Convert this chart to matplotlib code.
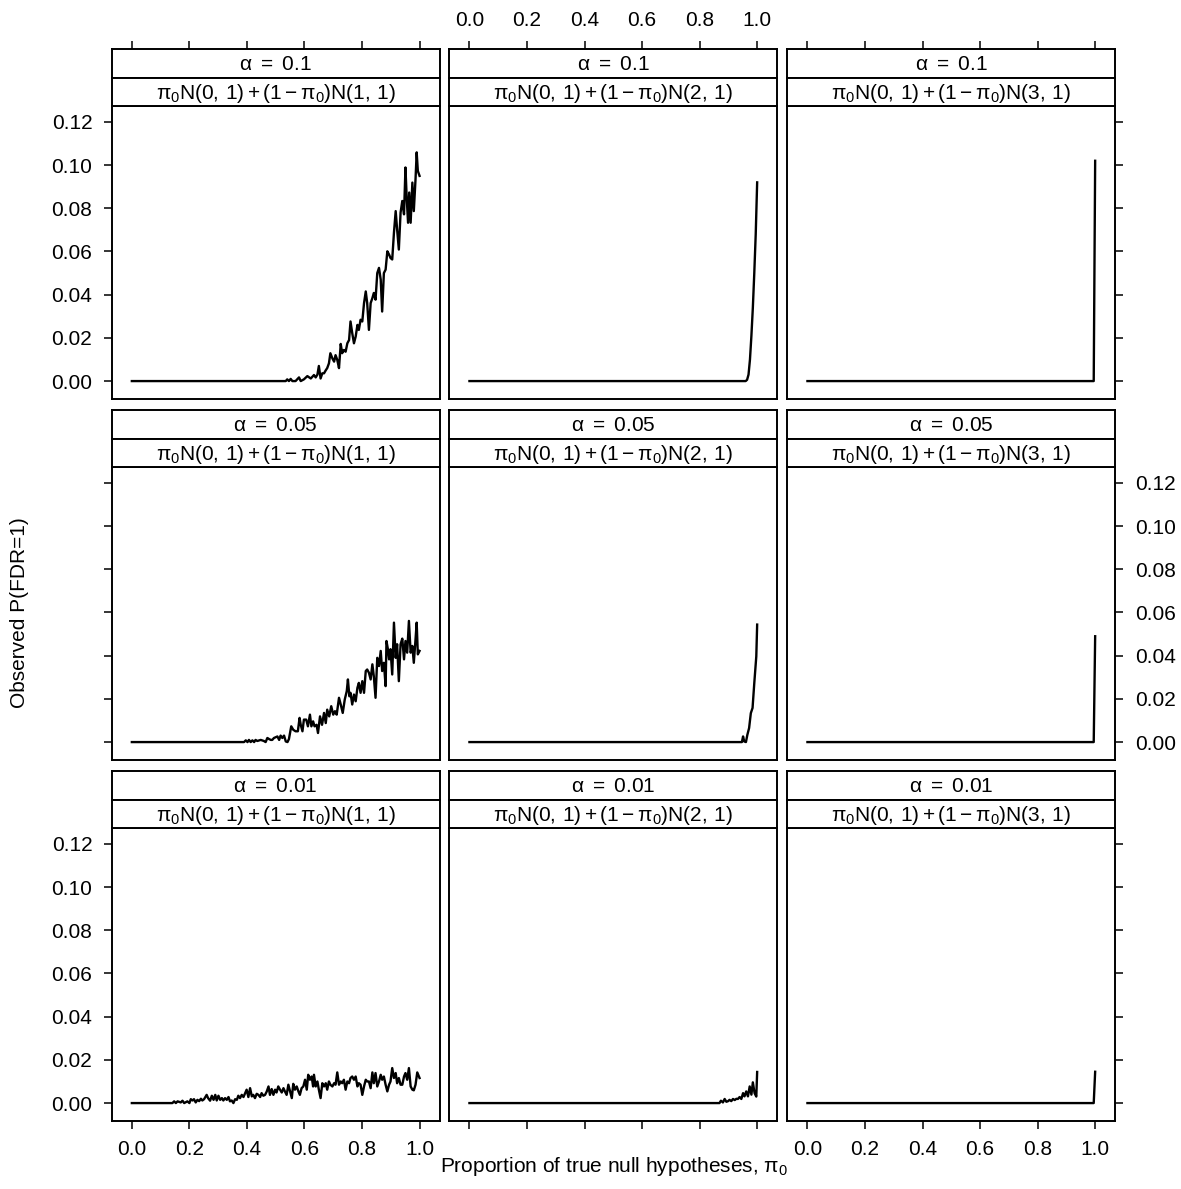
import matplotlib.pyplot as plt
from matplotlib.ticker import FormatStrFormatter

plt.rcParams.update({
    "font.family": "Liberation Sans",
    "font.size": 15,
    "mathtext.fontset": "custom",
    "mathtext.rm": "Liberation Sans",
    "mathtext.it": "Liberation Sans",
    "mathtext.default": "rm",
})

alphas = ["0.1", "0.05", "0.01"]
alt_means = [1, 2, 3]

# observed P(FDR=1) against pi0, one curve per (alpha, alternative mean)
pi0_m1_a10 = [0.0, 0.535, 0.54, 0.546, 0.552, 0.558, 0.569, 0.581, 0.587, 0.598,
              0.61, 0.622, 0.633, 0.639, 0.645, 0.65, 0.656, 0.662, 0.668, 0.674,
              0.679, 0.685, 0.69, 0.697, 0.703, 0.708, 0.714, 0.72, 0.726, 0.731,
              0.737, 0.743, 0.749, 0.755, 0.76, 0.766, 0.772, 0.778, 0.784, 0.789,
              0.795, 0.801, 0.807, 0.813, 0.818, 0.824, 0.83, 0.836, 0.841, 0.847,
              0.853, 0.859, 0.865, 0.87, 0.876, 0.882, 0.888, 0.894, 0.899, 0.905,
              0.911, 0.917, 0.922, 0.928, 0.934, 0.94, 0.946, 0.951, 0.955, 0.96,
              0.964, 0.969, 0.975, 0.98, 0.986, 0.99, 0.994, 1.0]
fdr_m1_a10 = [0, 0, 0.0008, 0, 0.001, 0, 0, 0.0017, 0, 0.0008,
              0.0023, 0.0012, 0.0028, 0.0017, 0.003, 0.007, 0.0012, 0.0036, 0.0036, 0.005,
              0.006, 0.0082, 0.0129, 0.0105, 0.009, 0.012, 0.0098, 0.006, 0.0172, 0.0129,
              0.0144, 0.0136, 0.0175, 0.019, 0.0276, 0.0222, 0.0175, 0.0206, 0.026, 0.0237,
              0.0284, 0.0276, 0.0361, 0.0415, 0.0361, 0.0237, 0.0361, 0.0384, 0.0408, 0.0377,
              0.050, 0.0524, 0.047, 0.0322, 0.050, 0.0516, 0.0601, 0.0586, 0.057, 0.0563,
              0.0687, 0.0787, 0.0702, 0.0609, 0.078, 0.0834, 0.0772, 0.0989, 0.0857, 0.0733,
              0.0873, 0.0733, 0.0919, 0.0787, 0.0935, 0.1059, 0.0973, 0.095]

pi0_m1_a05 = [0.0, 0.39, 0.396, 0.402, 0.407, 0.413, 0.419, 0.425, 0.43, 0.436,
              0.448, 0.459, 0.465, 0.471, 0.477, 0.483, 0.488, 0.494, 0.506, 0.512,
              0.517, 0.523, 0.529, 0.535, 0.541, 0.546, 0.554, 0.561, 0.569, 0.577,
              0.583, 0.587, 0.593, 0.598, 0.606, 0.612, 0.619, 0.624, 0.63, 0.635,
              0.642, 0.647, 0.654, 0.661, 0.668, 0.674, 0.679, 0.686, 0.693, 0.7,
              0.706, 0.712, 0.72, 0.726, 0.733, 0.74, 0.747, 0.751, 0.756, 0.76,
              0.766, 0.772, 0.778, 0.784, 0.789, 0.795, 0.801, 0.807, 0.813, 0.818,
              0.824, 0.83, 0.836, 0.841, 0.847, 0.853, 0.859, 0.865, 0.87, 0.876,
              0.882, 0.885, 0.89, 0.894, 0.899, 0.905, 0.911, 0.917, 0.922, 0.928,
              0.934, 0.94, 0.946, 0.951, 0.957, 0.963, 0.969, 0.975, 0.98, 0.986,
              0.99, 0.994, 1.0]
fdr_m1_a05 = [0, 0, 0.0008, 0, 0.001, 0, 0.0008, 0, 0.001, 0.0005,
              0.001, 0.0005, 0, 0.0019, 0.0014, 0.001, 0.001, 0.0019, 0.0026, 0.001,
              0.003, 0.0019, 0.003, 0.0003, 0, 0.0014, 0.0073, 0.0057, 0.005, 0.005,
              0.0112, 0.008, 0.005, 0.0104, 0.0104, 0.0073, 0.0127, 0.0073, 0.0096, 0.0073,
              0.008, 0.0042, 0.0119, 0.008, 0.0135, 0.0088, 0.015, 0.0119, 0.0166, 0.0127,
              0.0143, 0.0127, 0.0205, 0.0174, 0.0135, 0.0197, 0.0236, 0.029, 0.0212, 0.0228,
              0.0174, 0.022, 0.0189, 0.0251, 0.0274, 0.0228, 0.0282, 0.0228, 0.0329, 0.0336,
              0.0321, 0.029, 0.036, 0.0305, 0.0205, 0.039, 0.0352, 0.0422, 0.0329, 0.0367,
              0.0259, 0.0468, 0.043, 0.0383, 0.043, 0.0313, 0.0553, 0.039, 0.0453, 0.0282,
              0.0453, 0.0479, 0.0383, 0.0468, 0.0414, 0.0561, 0.0414, 0.0445, 0.0367, 0.0476,
              0.0553, 0.0406, 0.0422]

pi0_m1_a01 = [0.0, 0.141, 0.147, 0.153, 0.159, 0.17, 0.176, 0.182, 0.193, 0.2, 0.205,
              0.211, 0.216, 0.222, 0.228, 0.234, 0.24, 0.245, 0.251, 0.26, 0.265,
              0.272, 0.278, 0.284, 0.29, 0.295, 0.301, 0.307, 0.313, 0.318, 0.324,
              0.33, 0.336, 0.341, 0.347, 0.353, 0.359, 0.365, 0.37, 0.376, 0.382,
              0.388, 0.394, 0.399, 0.405, 0.411, 0.417, 0.422, 0.428, 0.434, 0.44,
              0.446, 0.451, 0.457, 0.463, 0.469, 0.475, 0.48, 0.486, 0.492, 0.498,
              0.503, 0.509, 0.515, 0.521, 0.527, 0.532, 0.538, 0.544, 0.55, 0.556,
              0.561, 0.567, 0.573, 0.579, 0.584, 0.59, 0.596, 0.602, 0.608, 0.613,
              0.619, 0.625, 0.63, 0.633, 0.639, 0.645, 0.65, 0.656, 0.662, 0.668,
              0.674, 0.679, 0.685, 0.69, 0.697, 0.703, 0.708, 0.714, 0.72, 0.726,
              0.731, 0.737, 0.743, 0.749, 0.755, 0.76, 0.766, 0.772, 0.778, 0.784,
              0.789, 0.795, 0.801, 0.807, 0.813, 0.818, 0.824, 0.83, 0.836, 0.841,
              0.847, 0.853, 0.859, 0.865, 0.87, 0.876, 0.882, 0.888, 0.894, 0.899,
              0.905, 0.911, 0.917, 0.922, 0.928, 0.934, 0.94, 0.946, 0.951, 0.957,
              0.963, 0.969, 0.975, 0.98, 0.986, 0.992, 1.0]
fdr_m1_a01 = [0, 0, 0.0008, 0, 0.0008, 0.0003, 0.0011, 0, 0.0008, 0, 0.0018,
              0.0012, 0.0018, 0.0003, 0.0015, 0.0009, 0.002, 0.0012, 0.0018, 0.0038, 0.0023,
              0.0011, 0.0034, 0.0015, 0.0038, 0.0012, 0.0034, 0.0015, 0.0023, 0.0012, 0.0023,
              0.0015, 0.0028, 0.0008, 0.0012, 0, 0.0018, 0.0015, 0.0034, 0.0023, 0.0038,
              0.0028, 0.0046, 0.0062, 0.0028, 0.0069, 0.0031, 0.0038, 0.0023, 0.0043, 0.0038,
              0.0028, 0.0046, 0.0034, 0.0038, 0.0054, 0.0077, 0.0038, 0.0065, 0.0038, 0.0062,
              0.0049, 0.0077, 0.0062, 0.0049, 0.0069, 0.0054, 0.0038, 0.0085, 0.0054, 0.0023,
              0.0089, 0.0062, 0.0077, 0.0054, 0.0038, 0.0069, 0.0077, 0.0108, 0.0062, 0.0131,
              0.0108, 0.0123, 0.0077, 0.0131, 0.0077, 0.01, 0.0062, 0.0023, 0.0092, 0.0077,
              0.0092, 0.0062, 0.01, 0.0085, 0.0077, 0.0092, 0.0085, 0.0142, 0.0085, 0.01,
              0.0092, 0.0108, 0.0062, 0.01, 0.0092, 0.0116, 0.0123, 0.0108, 0.0123, 0.0077,
              0.0092, 0.0085, 0.0038, 0.0077, 0.0108, 0.01, 0.01, 0.0069, 0.0142, 0.0092,
              0.0139, 0.0077, 0.01, 0.0131, 0.0108, 0.0123, 0.0085, 0.0054, 0.0085, 0.01,
              0.0162, 0.0116, 0.0139, 0.0092, 0.0116, 0.0085, 0.0085, 0.0123, 0.0139, 0.0108,
              0.0162, 0.0077, 0.0062, 0.0059, 0.0085, 0.0142, 0.0116]

pi0_m2_a10 = [0.0, 0.955, 0.96, 0.965, 0.97, 0.975, 0.98, 0.985, 0.99, 0.995, 1.0]
fdr_m2_a10 = [0, 0, 0, 0.0006, 0.003, 0.01, 0.021, 0.034, 0.05, 0.068, 0.092]

pi0_m2_a05 = [0.0, 0.947, 0.951, 0.955, 0.961, 0.966, 0.972, 0.978, 0.984, 0.99, 0.997, 1.0]
fdr_m2_a05 = [0, 0, 0.0026, 0.0003, 0, 0.0034, 0.0065, 0.0134, 0.0158, 0.0273, 0.0397, 0.0544]

pi0_m2_a01 = [0.0, 0.869, 0.874, 0.881, 0.887, 0.893, 0.899, 0.904, 0.91, 0.916,
              0.922, 0.928, 0.933, 0.939, 0.945, 0.951, 0.956, 0.962, 0.968, 0.974,
              0.98, 0.985, 0.991, 0.997, 1.0]
fdr_m2_a01 = [0, 0, 0.0011, 0.0003, 0.0019, 0.0006, 0.0009, 0.0015, 0.0009, 0.0019,
              0.0014, 0.002, 0.0019, 0.0028, 0.0019, 0.0046, 0.0031, 0.0054, 0.0031, 0.0077,
              0.0039, 0.0096, 0.0046, 0.003, 0.0144]

pi0_m3 = [0.0, 0.995, 1.0]
fdr_m3_a10 = [0, 0, 0.102]
fdr_m3_a05 = [0, 0, 0.049]
fdr_m3_a01 = [0, 0, 0.0145]

curves = [
    [(pi0_m1_a10, fdr_m1_a10), (pi0_m2_a10, fdr_m2_a10), (pi0_m3, fdr_m3_a10)],
    [(pi0_m1_a05, fdr_m1_a05), (pi0_m2_a05, fdr_m2_a05), (pi0_m3, fdr_m3_a05)],
    [(pi0_m1_a01, fdr_m1_a01), (pi0_m2_a01, fdr_m2_a01), (pi0_m3, fdr_m3_a01)],
]

xticks = [0.0, 0.2, 0.4, 0.6, 0.8, 1.0]
yticks = [0.00, 0.02, 0.04, 0.06, 0.08, 0.10, 0.12]
xlim = (-0.07, 1.07)
ylim = (-0.0083, 0.1275)

# layout in pixels, measured from the top-left corner
W, H = 1181, 1189
col_left = [111.7, 449.3, 787.3]
col_w = 328.0
row_top = [105.7, 466.7, 827.7]
row_h = 293.3
strip_h = 28.2


def rect(left, top, width, height):
    return [left / W, 1 - (top + height) / H, width / W, height / H]


def no_ticks(ax):
    ax.tick_params(which="both", bottom=False, top=False, left=False, right=False,
                   labelbottom=False, labeltop=False, labelleft=False, labelright=False)


tick_kw = dict(direction="out", length=6, width=1.1, pad=8, labelsize=15)
lw_box = 1.4

fig = plt.figure(figsize=(W / 100, H / 100), dpi=100)

for r, a in enumerate(alphas):
    for c, m in enumerate(alt_means):
        ax = fig.add_axes(rect(col_left[c], row_top[r], col_w, row_h))
        x, y = curves[r][c]
        ax.plot(x, y, color="black", lw=1.7)
        ax.set_xlim(xlim)
        ax.set_ylim(ylim)
        for s in ax.spines.values():
            s.set_linewidth(lw_box)
        no_ticks(ax)
        ax.set_xticks(xticks)
        ax.set_yticks(yticks)
        ax.xaxis.set_major_formatter(FormatStrFormatter("%.1f"))
        ax.yaxis.set_major_formatter(FormatStrFormatter("%.2f"))
        ax.tick_params(**tick_kw)

        if r == 2:
            ax.tick_params(axis="x", bottom=True, labelbottom=(c != 1))
        if c == 0:
            ax.tick_params(axis="y", left=True, labelleft=(r != 1))
        if c == 2:
            ax.tick_params(axis="y", right=True, labelright=(r == 1))

        # two strips above each panel
        labels = [rf"$\alpha\ =\ {a}$",
                  rf"$\pi_0\mathrm{{N}}(0,\,1) + (1 - \pi_0)\mathrm{{N}}({m},\,1)$"]
        for k, lab in enumerate(labels):
            top = row_top[r] - (2 - k) * strip_h
            sax = fig.add_axes(rect(col_left[c], top, col_w, strip_h))
            sax.set_xlim(xlim)
            sax.set_ylim(0, 1)
            for s in sax.spines.values():
                s.set_linewidth(lw_box)
            no_ticks(sax)
            sax.text(0.5, 0.45, lab, transform=sax.transAxes,
                     ha="center", va="center", fontsize=15)
            if r == 0 and k == 0:
                sax.set_xticks(xticks)
                sax.xaxis.set_major_formatter(FormatStrFormatter("%.1f"))
                sax.tick_params(**tick_kw)
                sax.tick_params(axis="x", top=True, labeltop=(c == 1))

fig.text(613.5 / W, 1 - 1167 / H, r"Proportion of true null hypotheses, $\pi_0$",
         ha="center", va="center", fontsize=15)
fig.text(20 / W, 1 - 613 / H, "Observed P(FDR=1)", rotation=90,
         ha="center", va="center", fontsize=15)

fig.savefig("out.png", dpi=100)
